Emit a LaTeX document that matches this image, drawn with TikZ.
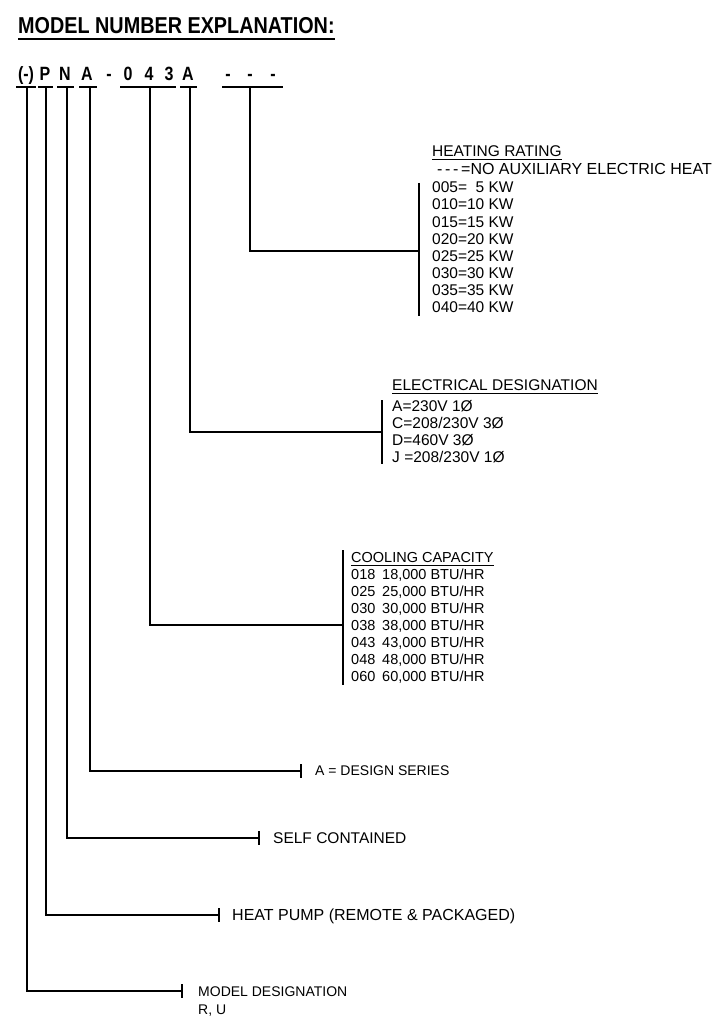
\documentclass[tikz,border=0pt]{standalone}
\usepackage{fontspec}
\setmainfont{Liberation Sans}
\usepackage{graphicx}
\begin{document}
\begin{tikzpicture}[x=1pt,y=-1pt,
  lbl/.style={anchor=base west, inner sep=0pt, font=\fontsize{15.5}{17}\selectfont},
  sml/.style={anchor=base west, inner sep=0pt, font=\fontsize{14}{16}\selectfont},
  lst/.style={anchor=base west, inner sep=0pt, font=\fontsize{14.5}{16}\selectfont},
  codech/.style={anchor=base, inner sep=0pt, font=\bfseries\fontsize{16}{18}\selectfont},
  wire/.style={line width=1.8pt},
  stemline/.style={line width=1.5pt},
  topbar/.style={line width=1.6pt},
  uline/.style={line width=1pt}]
\useasboundingbox (0,0) rectangle (720,1024);

% title
\node[anchor=base west, inner sep=0pt] (title) at (18,34)
  {\scalebox{0.99}[1.15]{\bfseries\fontsize{20}{24}\selectfont MODEL NUMBER EXPLANATION:}};
\draw[line width=2pt] ([yshift=-5pt]title.base west) -- ([yshift=-5pt]title.base east);

% model code characters
\node[codech] (c1) at (26,81) {\scalebox{1}[1.2]{(-)}};
\node[codech] (c2) at (45,81) {\scalebox{1}[1.2]{P}};
\node[codech] (c3) at (65,81) {\scalebox{1}[1.2]{N}};
\node[codech] (c4) at (87,81) {\scalebox{1}[1.2]{A}};
\node[codech] (c5) at (109,81) {\scalebox{1}[1.2]{-}};
\node[codech] (c6) at (128,81) {\scalebox{1}[1.2]{0}};
\node[codech] (c7) at (149,81) {\scalebox{1}[1.2]{4}};
\node[codech] (c8) at (169,81) {\scalebox{1}[1.2]{3}};
\node[codech] (c9) at (188,81) {\scalebox{1}[1.2]{A}};
\node[codech] (c10) at (228,81) {\scalebox{1}[1.2]{-}};
\node[codech] (c11) at (250,81) {\scalebox{1}[1.2]{-}};
\node[codech] (c12) at (273,81) {\scalebox{1}[1.2]{-}};

% bars under code groups
\draw[topbar] (16,87) -- (36,87);
\draw[topbar] (38,87) -- (53,87);
\draw[topbar] (57,87) -- (74,87);
\draw[topbar] (79,87) -- (97,87);
\draw[topbar] (120,87) -- (176,87);
\draw[topbar] (180,87) -- (197,87);
\draw[topbar] (222,87) -- (283,87);

% stem tops
\coordinate (s1) at (27,87);
\coordinate (s2) at (46,87);
\coordinate (s3) at (67,87);
\coordinate (s4) at (90,87);
\coordinate (s5) at (150,87);
\coordinate (s6) at (190,87);
\coordinate (s7) at (250,87);

% ---------- heating rating
\node[lbl] (ht) at (432,157) {HEATING RATING};
\draw[uline] ([yshift=-3pt]ht.base west) -- ([yshift=-3pt]ht.base east);
\node[lbl, font=\fontsize{16}{17}\selectfont] (h0) at (437,175) {-\,-\,-\,=NO AUXILIARY ELECTRIC HEAT};
\node[lbl] (h1) at (432,193) {005=\phantom{1}5 KW};
\node[lbl] (h2) at (432,210) {010=10 KW};
\node[lbl] (h3) at (432,227) {015=15 KW};
\node[lbl] (h4) at (432,244) {020=20 KW};
\node[lbl] (h5) at (432,261) {025=25 KW};
\node[lbl] (h6) at (432,278) {030=30 KW};
\node[lbl] (h7) at (432,295) {035=35 KW};
\node[lbl] (h8) at (432,312) {040=40 KW};
\coordinate (hbt) at (419,183);
\coordinate (hbb) at (419,316);
\coordinate (hj) at (419,251);
\draw[stemline] (hbt) -- (hbb);
\draw[wire] (s7) |- (hj);

% ---------- electrical designation
\node[lbl] (et) at (392,390) {ELECTRICAL DESIGNATION};
\draw[uline] ([yshift=-3pt]et.base west) -- ([yshift=-3pt]et.base east);
\node[lbl] (e1) at (392,411) {A=230V 1Ø};
\node[lbl] (e2) at (392,428) {C=208/230V 3Ø};
\node[lbl] (e3) at (392,445) {D=460V 3Ø};
\node[lbl] (e4) at (392,462) {J =208/230V 1Ø};
\coordinate (ebt) at (382,400);
\coordinate (ebb) at (382,464);
\coordinate (ej) at (382,432);
\draw[stemline] (ebt) -- (ebb);
\draw[wire] (s6) |- (ej);

% ---------- cooling capacity
\node[lst] (ct) at (351,562) {COOLING CAPACITY};
\draw[uline] ([yshift=-3pt]ct.base west) -- ([yshift=-3pt]ct.base east);
\node[lst] (k1) at (351,579) {018}; \node[lst] (v1) at (382,579) {18,000 BTU/HR};
\node[lst] (k2) at (351,596) {025}; \node[lst] (v2) at (382,596) {25,000 BTU/HR};
\node[lst] (k3) at (351,613) {030}; \node[lst] (v3) at (382,613) {30,000 BTU/HR};
\node[lst] (k4) at (351,630) {038}; \node[lst] (v4) at (382,630) {38,000 BTU/HR};
\node[lst] (k5) at (351,647) {043}; \node[lst] (v5) at (382,647) {43,000 BTU/HR};
\node[lst] (k6) at (351,664) {048}; \node[lst] (v6) at (382,664) {48,000 BTU/HR};
\node[lst] (k7) at (351,681) {060}; \node[lst] (v7) at (382,681) {60,000 BTU/HR};
\coordinate (cbt) at (343,550);
\coordinate (cbb) at (343,685);
\coordinate (cj) at (343,625);
\draw[stemline] (cbt) -- (cbb);
\draw[wire] (s5) |- (cj);

% ---------- design series
\node[sml] (ds) at (315,775) {A = DESIGN SERIES};
\coordinate (dj) at (301,771);
\draw[stemline] ([yshift=7pt]dj) -- ([yshift=-7pt]dj);
\draw[wire] (s4) |- (dj);

% ---------- self contained
\node[lbl] (sc) at (273,843) {SELF CONTAINED};
\coordinate (sj) at (259,838);
\draw[stemline] ([yshift=7pt]sj) -- ([yshift=-7pt]sj);
\draw[wire] (s3) |- (sj);

% ---------- heat pump
\node[lbl, font=\fontsize{16}{17}\selectfont] (hp) at (232,920) {HEAT PUMP (REMOTE \& PACKAGED)};
\coordinate (pj) at (219,915);
\draw[stemline] ([yshift=7pt]pj) -- ([yshift=-7pt]pj);
\draw[wire] (s2) |- (pj);

% ---------- model designation
\node[sml] (md) at (198,996) {MODEL DESIGNATION};
\node[sml] (ru) at (198,1014) {R, U};
\coordinate (mj) at (182,991);
\draw[stemline] ([yshift=7pt]mj) -- ([yshift=-7pt]mj);
\draw[wire] (s1) |- (mj);
\end{tikzpicture}
\end{document}
